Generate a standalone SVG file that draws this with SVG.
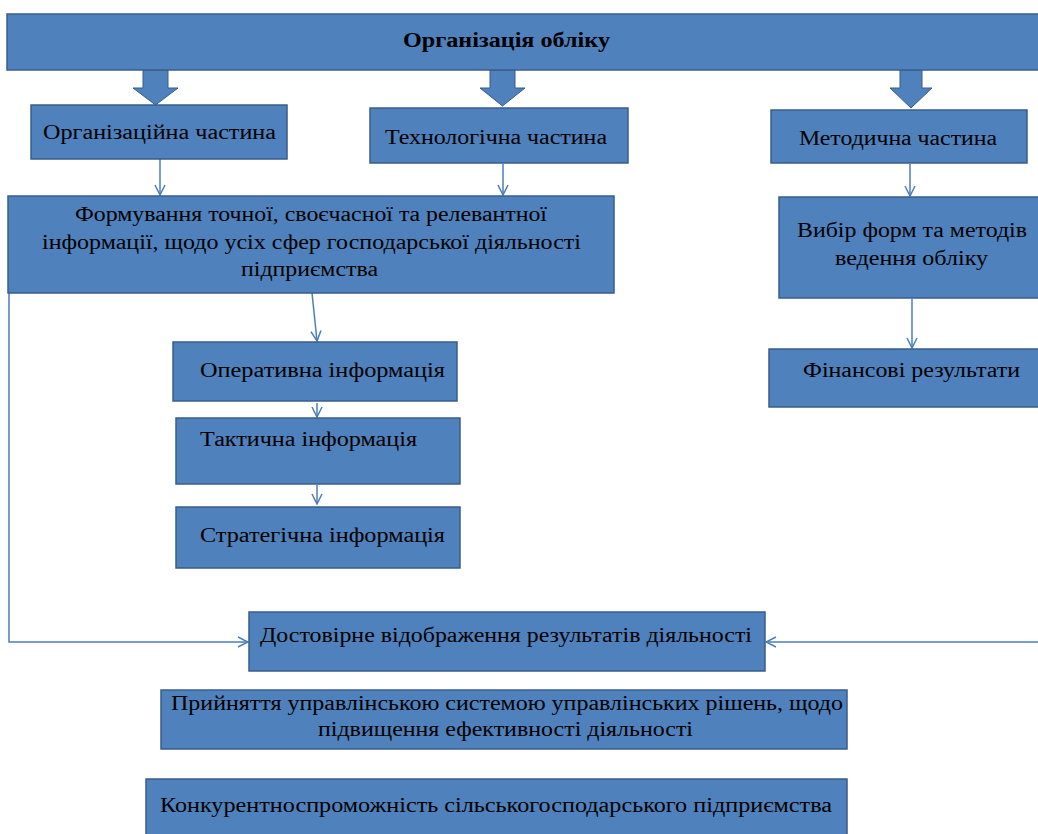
<svg xmlns="http://www.w3.org/2000/svg" width="1038" height="834" viewBox="0 0 1038 834">
<defs>
<style>
.box{fill:#4F81BD;stroke:#385D8A;stroke-width:1.5}
.t{font-family:"Liberation Serif","Times New Roman",serif;font-size:20px;fill:#000}
.b{font-weight:bold}
.c{fill:none;stroke:#4A7EBB;stroke-width:1.5}
.blk{fill:#4F81BD;stroke:#385D8A;stroke-width:1}
</style>
<marker id="ah" viewBox="0 0 12 12" refX="11" refY="6" markerWidth="12" markerHeight="12" markerUnits="userSpaceOnUse" orient="auto">
<path d="M1,1 L11,6 L1,11" fill="none" stroke="#4A7EBB" stroke-width="1.5"/>
</marker>
</defs>
<rect width="1038" height="834" fill="#fff"/>
<g id="connectors">
<path class="blk" d="M143,70 H168 V88 H178 L155.5,105 L133,88 H143 Z"/>
<path class="blk" d="M490,70 H515 V88 H525 L502.5,106 L480,88 H490 Z"/>
<path class="blk" d="M900,70 H922 V88 H932 L911,108 L890,88 H900 Z"/>
<line class="c" x1="160" y1="159" x2="160" y2="195" marker-end="url(#ah)"/>
<line class="c" x1="503" y1="164" x2="503" y2="195" marker-end="url(#ah)"/>
<line class="c" x1="910" y1="164" x2="910" y2="196" marker-end="url(#ah)"/>
<line class="c" x1="912" y1="299" x2="912" y2="348" marker-end="url(#ah)"/>
<line class="c" x1="312" y1="293" x2="317" y2="341" marker-end="url(#ah)"/>
<line class="c" x1="317" y1="403" x2="317" y2="417" marker-end="url(#ah)"/>
<line class="c" x1="317" y1="485" x2="317" y2="504" marker-end="url(#ah)"/>
<polyline class="c" points="9,293 9,642 248,642" marker-end="url(#ah)"/>
<line class="c" x1="1038" y1="642" x2="766" y2="642" marker-end="url(#ah)"/>
</g>
<g id="n-org-obliku">
<rect class="box" x="7" y="14" width="1040" height="56"/>
<text class="t b" x="403" y="47" textLength="207" lengthAdjust="spacingAndGlyphs">Організація обліку</text>
</g>
<g id="n-org-chastyna">
<rect class="box" x="31" y="105" width="256" height="54"/>
<text class="t" x="43" y="139" textLength="233" lengthAdjust="spacingAndGlyphs">Організаційна частина</text>
</g>
<g id="n-tekh-chastyna">
<rect class="box" x="370" y="108" width="258" height="55"/>
<text class="t" x="385" y="144" textLength="222" lengthAdjust="spacingAndGlyphs">Технологічна частина</text>
</g>
<g id="n-metod-chastyna">
<rect class="box" x="771" y="110" width="256" height="53"/>
<text class="t" x="799" y="145" textLength="198" lengthAdjust="spacingAndGlyphs">Методична частина</text>
</g>
<g id="n-formuvannia">
<rect class="box" x="8" y="196" width="606" height="97"/>
<text class="t" x="75" y="221" textLength="472" lengthAdjust="spacingAndGlyphs">Формування точної, своєчасної та релевантної</text>
<text class="t" x="42" y="249" textLength="539" lengthAdjust="spacingAndGlyphs">інформації, щодо усіх сфер господарської діяльності</text>
<text class="t" x="241" y="276" textLength="137" lengthAdjust="spacingAndGlyphs">підприємства</text>
</g>
<g id="n-vybir">
<rect class="box" x="779" y="197" width="270" height="101"/>
<text class="t" x="797" y="237" textLength="230" lengthAdjust="spacingAndGlyphs">Вибір форм та методів</text>
<text class="t" x="835" y="265" textLength="153" lengthAdjust="spacingAndGlyphs">ведення обліку</text>
</g>
<g id="n-finansovi">
<rect class="box" x="769" y="349" width="280" height="58"/>
<text class="t" x="803" y="377" textLength="217" lengthAdjust="spacingAndGlyphs">Фінансові результати</text>
</g>
<g id="n-operatyvna">
<rect class="box" x="173" y="342" width="284" height="59"/>
<text class="t" x="200" y="377" textLength="245" lengthAdjust="spacingAndGlyphs">Оперативна інформація</text>
</g>
<g id="n-taktychna">
<rect class="box" x="176" y="418" width="284" height="66"/>
<text class="t" x="200" y="446" textLength="217" lengthAdjust="spacingAndGlyphs">Тактична інформація</text>
</g>
<g id="n-stratehichna">
<rect class="box" x="176" y="507" width="284" height="61"/>
<text class="t" x="200" y="542" textLength="245" lengthAdjust="spacingAndGlyphs">Стратегічна інформація</text>
</g>
<g id="n-dostovirne">
<rect class="box" x="249" y="612" width="516" height="59"/>
<text class="t" x="260" y="642" textLength="492" lengthAdjust="spacingAndGlyphs">Достовірне відображення результатів діяльності</text>
</g>
<g id="n-pryiniattia">
<rect class="box" x="161" y="690" width="686" height="59"/>
<text class="t" x="171" y="710" textLength="672" lengthAdjust="spacingAndGlyphs">Прийняття управлінською системою управлінських рішень, щодо</text>
<text class="t" x="318" y="736" textLength="375" lengthAdjust="spacingAndGlyphs">підвищення ефективності діяльності</text>
</g>
<g id="n-konkurent">
<rect class="box" x="146" y="779" width="701" height="60"/>
<text class="t" x="160" y="812" textLength="672" lengthAdjust="spacingAndGlyphs">Конкурентноспроможність сільськогосподарського підприємства</text>
</g>
</svg>
